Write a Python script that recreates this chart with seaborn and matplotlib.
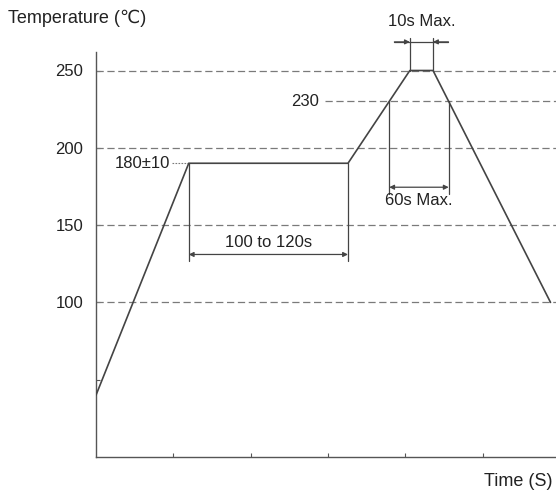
import numpy as np
import pandas as pd
import matplotlib
matplotlib.use("Agg")
import matplotlib.pyplot as plt
import seaborn as sns

# Reflow profile corner points (time, temperature)
time_s = [0, 60, 163, 203, 218, 294]
temp_c = [40, 190, 190, 250, 250, 100]

# Reference levels drawn as dashed guide lines
ref_levels = [100, 150, 200, 250]
peak_level = 230
preheat_label = "180±10"

ytick_vals = [50, 100, 150, 200, 250]
ytick_labels = ["", "100", "150", "200", "250"]
xtick_vals = [50, 100, 150, 200, 250]

LINE = "#444444"
DASH = "#7a7a7a"
TEXT = "#222222"


def dim_arrow(ax, x0, x1, y, style="<|-|>"):
    ax.annotate("", xy=(x1, y), xytext=(x0, y),
                arrowprops=dict(arrowstyle=style, color=LINE, lw=0.9,
                                shrinkA=0, shrinkB=0, mutation_scale=7),
                annotation_clip=False)


sns.set_style("ticks")
plt.rcParams["font.family"] = ["Liberation Sans", "DejaVu Sans"]
plt.rcParams["font.size"] = 12

px = 1.546  # pixels per data unit on both axes
fig = plt.figure(figsize=(5.56, 4.93), dpi=100)
ax = fig.add_axes([96 / 556, 36 / 493, 460 / 556, 405 / 493])
xmax = 460 / px
ax.set_xlim(0, xmax)
ax.set_ylim(0, 405 / px)

df = pd.DataFrame({"time": time_s, "temp": temp_c})
sns.lineplot(data=df, x="time", y="temp", ax=ax, sort=False,
             color=LINE, lw=1.2, zorder=3)

# dashed guide lines
for lvl in ref_levels:
    ax.axhline(lvl, color=DASH, lw=0.9, dashes=(5.8, 2.9), zorder=1)
ax.plot([148, xmax], [peak_level, peak_level], color=DASH, lw=0.9,
        dashes=(5.8, 2.9), zorder=1)
ax.text(144, peak_level, str(peak_level), ha="right", va="center", color=TEXT)

# preheat label with short leader
ax.text(48, temp_c[1], preheat_label, ha="right", va="center", color=TEXT)
ax.plot([49, time_s[1]], [temp_c[1], temp_c[1]], color=DASH, lw=0.8,
        dashes=(1.5, 1.2))

# soak time 100 to 120s
for t in (time_s[1], time_s[2]):
    ax.plot([t, t], [temp_c[1], 127], color=LINE, lw=0.9)
dim_arrow(ax, time_s[1], time_s[2], 131)
ax.text((time_s[1] + time_s[2]) / 2, 138.5, "100 to 120s",
        ha="center", va="center", color=TEXT)

# time above 230
t_up = np.interp(peak_level, [temp_c[2], temp_c[3]], [time_s[2], time_s[3]])
t_down = np.interp(peak_level, [temp_c[5], temp_c[4]], [time_s[5], time_s[4]])
for t in (t_up, t_down):
    ax.plot([t, t], [peak_level, 170], color=LINE, lw=0.9)
dim_arrow(ax, t_up, t_down, 174.5)
ax.text((t_up + t_down) / 2, 166, "60s Max.", ha="center", va="center",
        color=TEXT)

# time at peak
for t in (time_s[3], time_s[4]):
    ax.plot([t, t], [temp_c[3], 271], color=LINE, lw=0.9, clip_on=False)
ax.plot([193, 228], [268.5, 268.5], color=LINE, lw=0.9, clip_on=False)
dim_arrow(ax, 193, time_s[3], 268.5, style="-|>")
dim_arrow(ax, 228, time_s[4], 268.5, style="-|>")
ax.text((time_s[3] + time_s[4]) / 2, 281.5, "10s Max.", ha="center",
        va="center", color=TEXT)

# axes styling
sns.despine(ax=ax)
for s in ("left", "bottom"):
    ax.spines[s].set_color("#555555")
    ax.spines[s].set_linewidth(1.0)
ax.set_xticks(xtick_vals)
ax.set_xticklabels([])
ax.set_yticks(ytick_vals)
ax.set_yticklabels(ytick_labels)
ax.tick_params(direction="in", length=3, color="#555555", labelcolor=TEXT,
               labelsize=12)
ax.tick_params(axis="y", pad=9)
ax.set_xlabel("")
ax.set_ylabel("")

fig.text(8 / 556, 1 - 18 / 493, "Temperature (℃)", ha="left", va="center",
         fontsize=13, color=TEXT)
fig.text(553 / 556, 1 - 482 / 493, "Time (S)", ha="right", va="center",
         fontsize=13, color=TEXT)

fig.savefig("out.png", dpi=100)
